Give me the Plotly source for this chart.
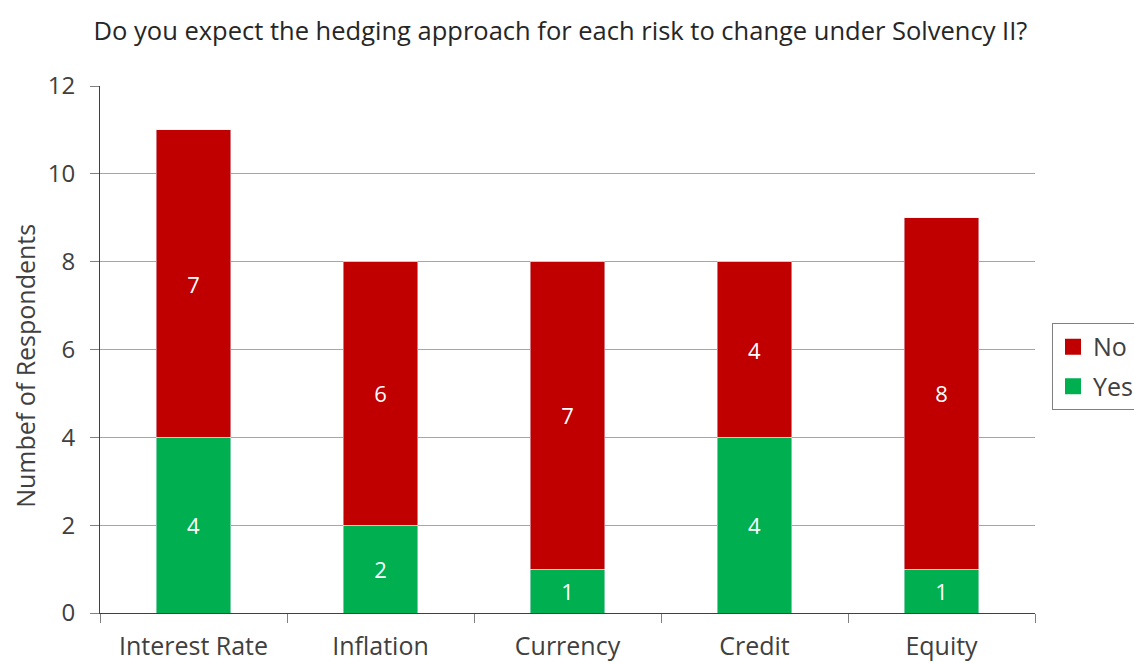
import plotly.graph_objects as go

categories = ["Interest Rate", "Inflation", "Currency", "Credit", "Equity"]
yes_values = [4, 2, 1, 4, 1]
no_values = [7, 6, 7, 4, 8]
y_ticks = [0, 2, 4, 6, 8, 10, 12]

FONT = "Open Sans"
TXT = "#404040"
GREEN = "#00B050"
RED = "#C00000"

fig = go.Figure()
fig.add_trace(go.Bar(
    name="Yes", x=categories, y=yes_values, marker_color=GREEN,
    text=yes_values, textposition="inside", insidetextanchor="middle",
    textfont=dict(color="white", size=22, family=FONT), width=0.4,
    showlegend=False,
))
fig.add_trace(go.Bar(
    name="No", x=categories, y=no_values, marker_color=RED,
    text=no_values, textposition="inside", insidetextanchor="middle",
    textfont=dict(color="white", size=22, family=FONT), width=0.4,
    showlegend=False,
))
# legend entries (square swatches)
for name, col in [("No", RED), ("Yes", GREEN)]:
    fig.add_trace(go.Scatter(
        x=[None], y=[None], mode="markers", name=name, legendgroup=name,
        marker=dict(symbol="square", size=16, color=col),
    ))

fig.update_layout(
    barmode="stack",
    width=1134, height=664,
    margin=dict(l=100, r=99, t=86, b=51, autoexpand=False),
    paper_bgcolor="white", plot_bgcolor="white",
    font=dict(family=FONT, color=TXT),
    title=dict(text="Do you expect the hedging approach for each risk to change under Solvency II?",
               xref="paper", x=0.4925, xanchor="center", y=0.953, yanchor="middle",
               font=dict(size=25.5, color="#262626", family=FONT)),
    legend=dict(x=1.0182, y=0.5503, xanchor="left", yanchor="top",
                traceorder="grouped", tracegroupgap=4,
                bordercolor="#808080", borderwidth=1,
                bgcolor="white", font=dict(size=25, color=TXT, family=FONT)),
    uniformtext=dict(mode="show", minsize=10),
    annotations=[dict(
        text="Numbef of Respondents", textangle=-90, xref="paper", yref="paper",
        x=-0.0802, y=0.469, xanchor="center", yanchor="middle", showarrow=False,
        font=dict(size=25, color=TXT, family=FONT),
    )],
)
fig.update_xaxes(
    showline=True, linecolor="#404040", linewidth=1,
    ticks="outside", tickson="boundaries", ticklen=9, tickcolor="#808080",
    ticklabelstandoff=11,
    tickfont=dict(size=25, color=TXT, family=FONT), showgrid=False,
)
fig.update_yaxes(
    range=[0, 12], tickvals=y_ticks, showline=True, linecolor="#404040", linewidth=1,
    ticks="outside", ticklen=9, tickcolor="#808080", ticklabelstandoff=10,
    showgrid=True, gridcolor="#A6A6A6", gridwidth=1,
    tickfont=dict(size=24, color=TXT, family=FONT),
    zeroline=False,
)

fig.write_html("out.html", config={"displayModeBar": False},
               post_script="document.body.style.margin='0';document.body.style.overflow='hidden';")
